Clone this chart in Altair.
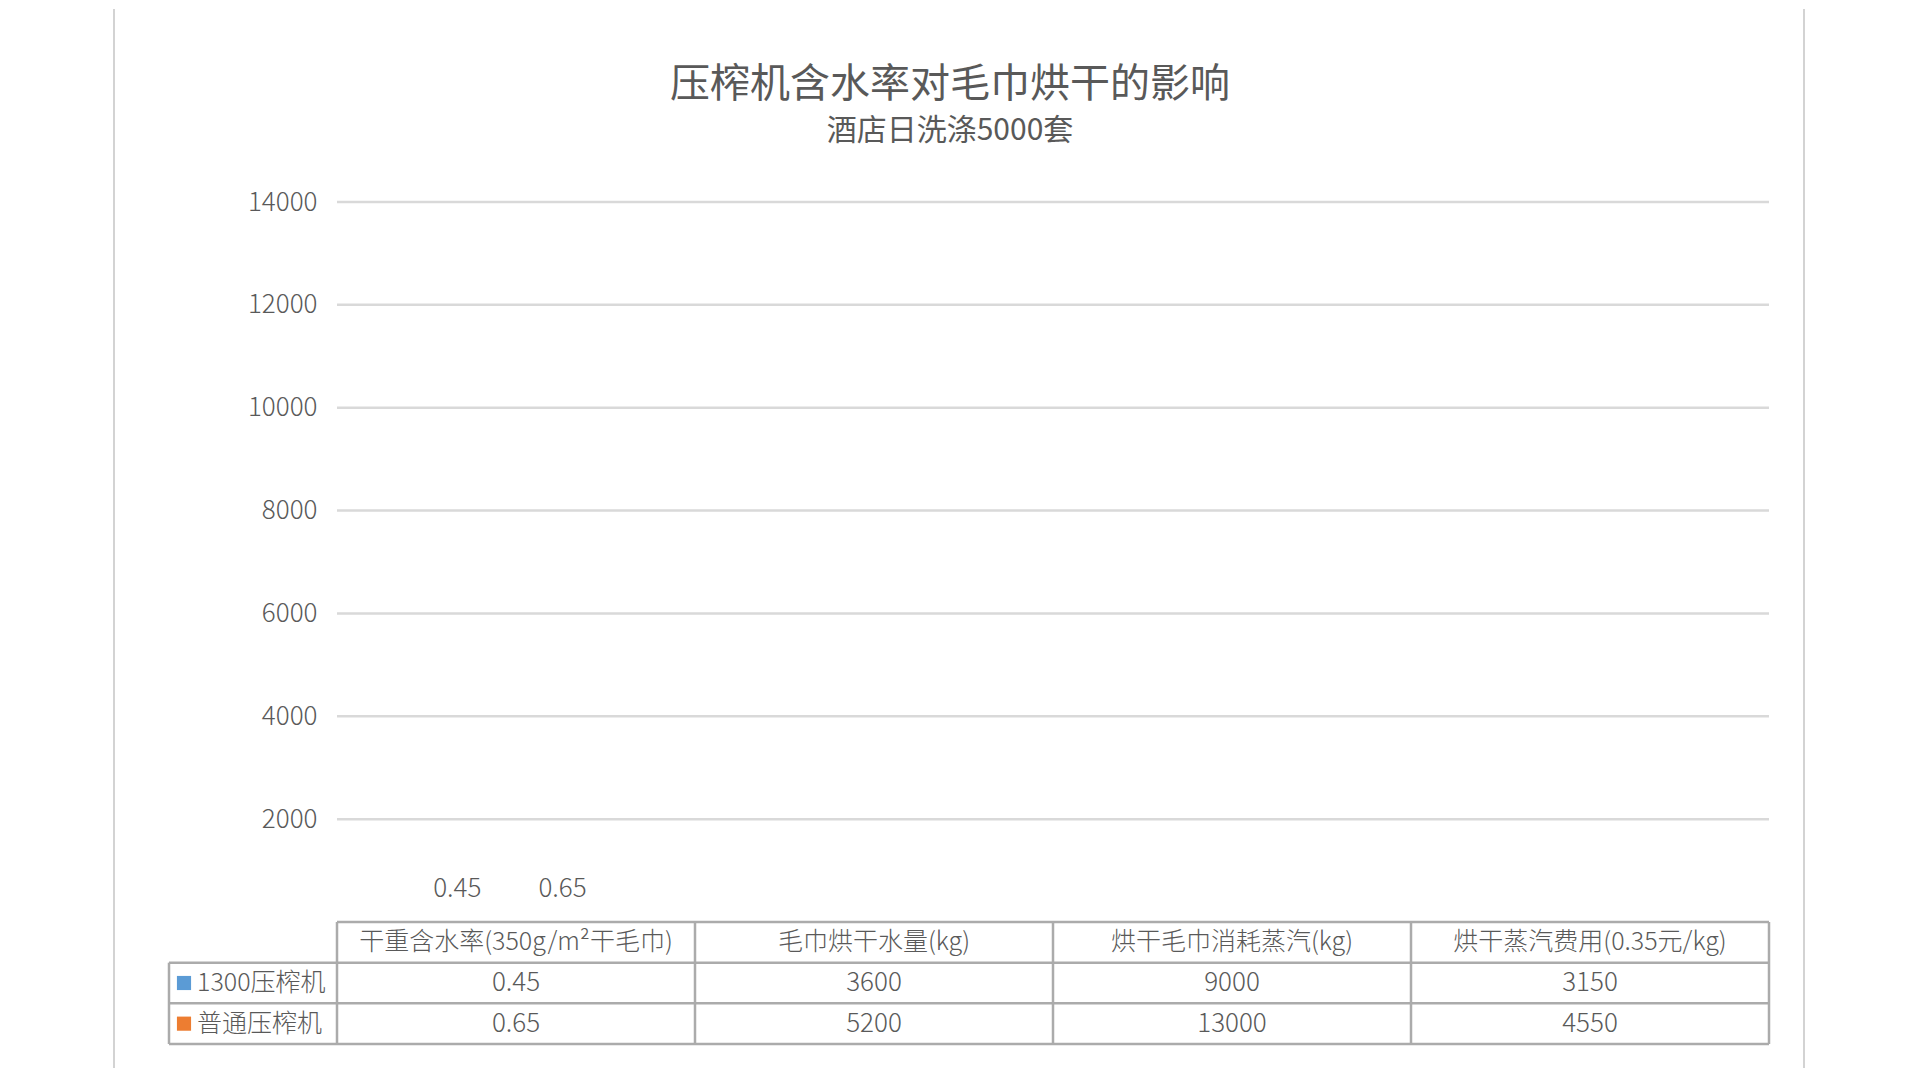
import altair as alt
import pandas as pd

# ---------------- data ----------------
categories = ["干重含水率(350g/m²干毛巾)", "毛巾烘干水量(kg)", "烘干毛巾消耗蒸汽(kg)", "烘干蒸汽费用(0.35元/kg)"]
series = ["1300压榨机", "普通压榨机"]
values_1300 = [0.45, 3600, 9000, 3150]
values_normal = [0.65, 5200, 13000, 4550]
value_labels_1300 = ["0.45", "3600", "9000", "3150"]
value_labels_normal = ["0.65", "5200", "13000", "4550"]
y_ticks = [2000, 4000, 6000, 8000, 10000, 12000, 14000]
series_colors = ["#5B9BD5", "#ED7D31"]

title_text = "压榨机含水率对毛巾烘干的影响"
subtitle_text = "酒店日洗涤5000套"

# ---------------- layout constants ----------------
COL_PX = 358          # width of one category column
LEG_PX = 168          # width of legend column of the data table
N = len(categories)
X_MIN = -LEG_PX / COL_PX
PLOT_W = LEG_PX + N * COL_PX
PLOT_H = 720
TABLE_H = 122
FONT = "Noto Sans CJK SC"
TXT = "#595959"
LINE = "#ABABAB"
GRID = "#D9D9D9"
BAR_HALF_GAP = 0.147
BAR_SHIFT = -0.017

# ---------------- tables built from arrays ----------------
rows = []
for s_i, (s, vals, labs) in enumerate(zip(series, [values_1300, values_normal],
                                          [value_labels_1300, value_labels_normal])):
    for c_i, (c, v, l) in enumerate(zip(categories, vals, labs)):
        rows.append({"cat": c, "idx": c_i, "series": s, "sidx": s_i,
                     "value": v, "label": l})
df = pd.DataFrame(rows)
df["xpos"] = df["idx"] + 0.5 + BAR_SHIFT + (df["sidx"] - 0.5) * 2 * BAR_HALF_GAP
df["x0"] = df["xpos"] - 0.1
df["x1"] = df["xpos"] + 0.1
df["row"] = df["sidx"] + 1.5
df["col"] = df["idx"] + 0.5

grid_df = pd.DataFrame({"tick": y_ticks})
grid_df["x0"] = 0
grid_df["x1"] = N

head_df = pd.DataFrame({"cat": categories, "col": [i + 0.5 for i in range(N)]})
head_df["row"] = 0.5

leg_df = pd.DataFrame({"series": series, "row": [i + 1.5 for i in range(len(series))]})
leg_df["xs"] = X_MIN + 15 / COL_PX
leg_df["xt"] = X_MIN + 28 / COL_PX

n_rows = len(series) + 1
lines = []
lines.append({"x0": 0, "x1": N, "y0": 0, "y1": 0})
for r in range(1, n_rows + 1):
    lines.append({"x0": X_MIN, "x1": N, "y0": r, "y1": r})
for c in range(N + 1):
    lines.append({"x0": c, "x1": c, "y0": 0, "y1": n_rows})
lines.append({"x0": X_MIN, "x1": X_MIN, "y0": 1, "y1": n_rows})
lines_df = pd.DataFrame(lines)

xscale = alt.Scale(domain=[X_MIN, N], nice=False, zero=False)
yscale = alt.Scale(domain=[0, 14000], nice=False)
yaxis = alt.Axis(values=y_ticks, format="d", offset=-LEG_PX, labelPadding=20, ticks=False,
                 domain=False, grid=False, labelFont=FONT, labelFontSize=26,
                 labelColor=TXT, labelFontWeight=300, title=None)

# ---------------- top chart ----------------
frame_l = alt.Chart(grid_df.head(1)).mark_rule(color="#C4C4C4", strokeWidth=1.5).encode(
    x=alt.value(-55), y=alt.value(-193), y2=alt.value(866))
frame_r = alt.Chart(grid_df.head(1)).mark_rule(color="#C4C4C4", strokeWidth=1.5).encode(
    x=alt.value(PLOT_W + 35), y=alt.value(-193), y2=alt.value(866))

grid = alt.Chart(grid_df).mark_rule(color=GRID, strokeWidth=2.5).encode(
    x=alt.X("x0:Q", scale=xscale, axis=None),
    x2="x1:Q",
    y=alt.Y("tick:Q", scale=yscale, axis=yaxis),
)

bars = alt.Chart(df).mark_bar(opacity=0).encode(
    x=alt.X("x0:Q", scale=xscale, axis=None),
    x2="x1:Q",
    y=alt.Y("value:Q", scale=yscale, axis=yaxis),
    y2=alt.datum(0),
)

labels = alt.Chart(df).transform_filter(alt.datum.idx == 0).mark_text(
    font=FONT, fontSize=26, fontWeight=300, color=TXT, baseline="middle", dy=-33
).encode(
    x=alt.X("xpos:Q", scale=xscale, axis=None),
    y=alt.Y("value:Q", scale=yscale, axis=yaxis),
    text="label:N",
)

top = alt.layer(frame_l, frame_r, grid, bars, labels).properties(width=PLOT_W, height=PLOT_H)

# ---------------- data table ----------------
tx = alt.Scale(domain=[X_MIN, N], nice=False, zero=False)
ty = alt.Scale(domain=[0, n_rows], nice=False, zero=False, reverse=True)

tlines = alt.Chart(lines_df).mark_rule(color=LINE, strokeWidth=2.5).encode(
    x=alt.X("x0:Q", scale=tx, axis=None), x2="x1:Q",
    y=alt.Y("y0:Q", scale=ty, axis=None), y2="y1:Q")

theads = alt.Chart(head_df).mark_text(font=FONT, fontSize=25, fontWeight=300, color=TXT).encode(
    x=alt.X("col:Q", scale=tx, axis=None),
    y=alt.Y("row:Q", scale=ty, axis=None),
    text="cat:N")

tvals = alt.Chart(df).mark_text(font=FONT, fontSize=26, fontWeight=300, color=TXT).encode(
    x=alt.X("col:Q", scale=tx, axis=None),
    y=alt.Y("row:Q", scale=ty, axis=None),
    text="label:N")

tsq = alt.Chart(leg_df).mark_square(size=200, opacity=1).encode(
    x=alt.X("xs:Q", scale=tx, axis=None),
    y=alt.Y("row:Q", scale=ty, axis=None),
    color=alt.Color("series:N", scale=alt.Scale(domain=series, range=series_colors), legend=None))

tleg = alt.Chart(leg_df).mark_text(font=FONT, fontSize=25, fontWeight=300, color=TXT, align="left").encode(
    x=alt.X("xt:Q", scale=tx, axis=None),
    y=alt.Y("row:Q", scale=ty, axis=None),
    text="series:N")

table = alt.layer(tlines, theads, tvals, tsq, tleg).properties(width=PLOT_W, height=TABLE_H)

chart = alt.vconcat(top, table, spacing=0, bounds="flush").properties(
    title=alt.TitleParams(
        text=title_text, subtitle=subtitle_text, font=FONT, subtitleFont=FONT,
        fontSize=40, subtitleFontSize=30, fontWeight=400, subtitleFontWeight=400,
        color=TXT, subtitleColor=TXT, anchor="middle",
        offset=-138, subtitlePadding=11, dx=-9),
    padding={"left": 105, "top": 0, "right": 5, "bottom": 0},
    background="white",
).configure_view(stroke=None)

chart.save("out.html", embed_options={"renderer": "svg", "actions": False})
